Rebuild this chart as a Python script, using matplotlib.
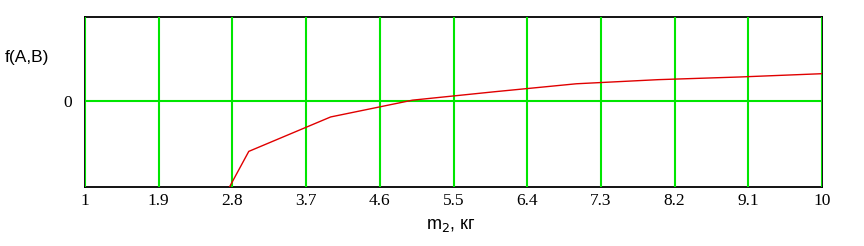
import matplotlib
matplotlib.use("Agg")
import matplotlib.pyplot as plt
import numpy as np

# m2 values (kg) and f(A,B)
m2 = [1, 2, 3, 4, 5, 6, 7, 8, 9, 10]
f_ab = [-10.0, -2.4, -0.60, -0.19, 0.01, 0.11, 0.205, 0.254, 0.286, 0.325]
x_ticks = [1, 1.9, 2.8, 3.7, 4.6, 5.5, 6.4, 7.3, 8.2, 9.1, 10]
x_tick_labels = ["1", "1.9", "2.8", "3.7", "4.6", "5.5", "6.4", "7.3", "8.2", "9.1", "10"]

GREEN = "#00e600"
RED = "#e00000"

fig = plt.figure(figsize=(8.64, 2.46), dpi=100)
ax = fig.add_axes([85 / 864, 1 - 187 / 246, 737 / 864, 170 / 246])

ax.plot(m2, f_ab, color=RED, lw=1.0, zorder=3)

ax.set_xlim(1, 10)
ax.set_ylim(-1.024, 1.0)

ax.set_xticks(x_ticks)
ax.set_xticklabels(x_tick_labels, family="Liberation Serif", fontsize=12.5)
ax.set_yticks([0])
ax.set_yticklabels(["0"], family="Liberation Serif", fontsize=12.5)
ax.tick_params(length=0)
ax.tick_params(axis="x", pad=4)
ax.tick_params(axis="y", pad=9)

# green grid: verticals at every tick, one horizontal at zero
for xv in x_ticks:
    ax.axvline(xv, color=GREEN, lw=1.5, zorder=2)
ax.axhline(0, color=GREEN, lw=1.5, zorder=2)

for sp in ax.spines.values():
    sp.set_linewidth(1.3)
    sp.set_color("black")
    sp.set_zorder(1)

ax.set_xlabel("m$_2$, кг", family="Liberation Sans", fontsize=13)
ax.xaxis.set_label_coords(0.497, -0.224)
ax.xaxis.label.set_va("center")

ax.set_ylabel("f(A,B)", family="Liberation Sans", fontsize=12.5, rotation=0,
              ha="right", va="center")
ax.yaxis.set_label_coords(-0.048, 0.759)

fig.savefig("out.png", dpi=100)
